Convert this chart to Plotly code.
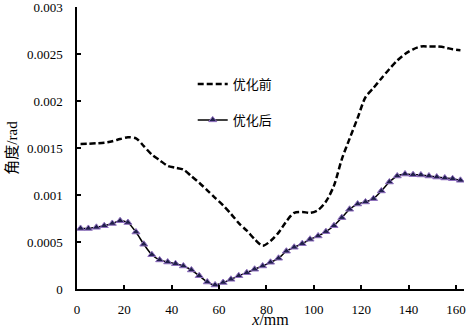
import plotly.graph_objects as go

x_mm = [1.5, 4.8, 8.2, 11.5, 14.9, 18.2, 21.5, 24.9, 28.2, 31.6,
        34.9, 38.3, 41.6, 44.9, 48.3, 51.6, 55.0, 58.3, 61.7, 65.0,
        68.3, 71.7, 75.0, 78.4, 81.7, 85.1, 88.4, 91.7, 95.1, 98.4,
        101.8, 105.1, 108.5, 111.8, 115.1, 118.5, 121.8, 125.2, 128.5, 131.9,
        135.2, 138.5, 141.9, 145.2, 148.6, 151.9, 155.3, 158.6, 161.9]

before = [0.001543, 0.001545, 0.00155, 0.001557, 0.001572, 0.001595, 0.001614, 0.001603, 0.00152, 0.00143,
          0.00137, 0.00131, 0.00129, 0.00127, 0.0012, 0.00113, 0.00105, 0.00097, 0.00089, 0.0008,
          0.0007, 0.00062, 0.00053, 0.00046, 0.00051, 0.0006, 0.00072, 0.00081, 0.00082, 0.00081,
          0.00084, 0.00093, 0.0011, 0.00138, 0.0016, 0.00182, 0.00204, 0.00214, 0.00224, 0.00234,
          0.00243, 0.0025, 0.00255, 0.00258, 0.00258, 0.00258, 0.00257, 0.00255, 0.00254]

after = [0.000644, 0.000644, 0.000656, 0.000673, 0.000697, 0.000726, 0.000707, 0.000606, 0.000476, 0.000365,
         0.000309, 0.000287, 0.000269, 0.000245, 0.000202, 0.000141, 0.000074, 0.000043, 0.000069, 0.000103,
         0.000141, 0.000173, 0.00021, 0.000245, 0.000284, 0.000327, 0.000402, 0.000444, 0.000482, 0.000529,
         0.000564, 0.00061, 0.000673, 0.000759, 0.000848, 0.000904, 0.000926, 0.000961, 0.001043, 0.001138,
         0.001202, 0.001223, 0.001216, 0.001213, 0.001202, 0.001191, 0.001181, 0.001173, 0.001156]

series_names = ["优化前", "优化后"]
x_ticks = [0, 20, 40, 60, 80, 100, 120, 140, 160]
y_ticks = [0, 0.0005, 0.001, 0.0015, 0.002, 0.0025, 0.003]
y_tick_text = ["0", "0.0005", "0.001", "0.0015", "0.002", "0.0025", "0.003"]

FONT = "Liberation Serif, Noto Sans CJK SC, serif"

fig = go.Figure()
fig.add_trace(go.Scatter(
    x=x_mm, y=before, name=series_names[0], mode="lines", legendgroup="a",
    line=dict(color="black", width=2.5, dash="6px,3px", shape="spline", smoothing=0.8),
))
fig.add_trace(go.Scatter(
    x=x_mm, y=after, name=series_names[1], mode="lines+markers", legendgroup="b",
    line=dict(color="black", width=1.5, shape="spline", smoothing=0.5),
    marker=dict(symbol="triangle-up", size=7, color="#20204a",
                line=dict(color="#9070c0", width=1)),
))

fig.update_layout(
    width=472, height=328,
    margin=dict(l=77, r=8, t=7, b=39),
    paper_bgcolor="white", plot_bgcolor="white",
    font=dict(family=FONT, size=13, color="black"),
    showlegend=True,
    legend=dict(x=0.299, y=0.78, xanchor="left", yanchor="top",
                bgcolor="rgba(0,0,0,0)", font=dict(size=13, family=FONT),
                traceorder="grouped", tracegroupgap=16),
    xaxis=dict(range=[0, 163.4], tickvals=x_ticks, showgrid=False, zeroline=False,
               showline=True, linecolor="black", linewidth=1.5, automargin=False,
               ticks="inside", ticklen=4, tickwidth=1.5, tickcolor="black",
               ticklabelstandoff=8, ticklabeloverflow="allow",
               tickfont=dict(size=13), title=dict(text="<i>x</i>/mm", font=dict(size=16), standoff=8)),
    yaxis=dict(range=[0, 0.003], tickvals=y_ticks, ticktext=y_tick_text, showgrid=False, zeroline=False,
               showline=True, linecolor="black", linewidth=1.5, automargin=False,
               ticks="inside", ticklen=4, tickwidth=1.5, tickcolor="black",
               ticklabelstandoff=10, ticklabeloverflow="allow",
               tickfont=dict(size=13), title=dict(text="角度/rad", font=dict(size=15), standoff=6)),
)

fig.write_html("out.html", config={"displayModeBar": False},
               post_script="document.body.style.margin='0';document.body.style.padding='0';")
